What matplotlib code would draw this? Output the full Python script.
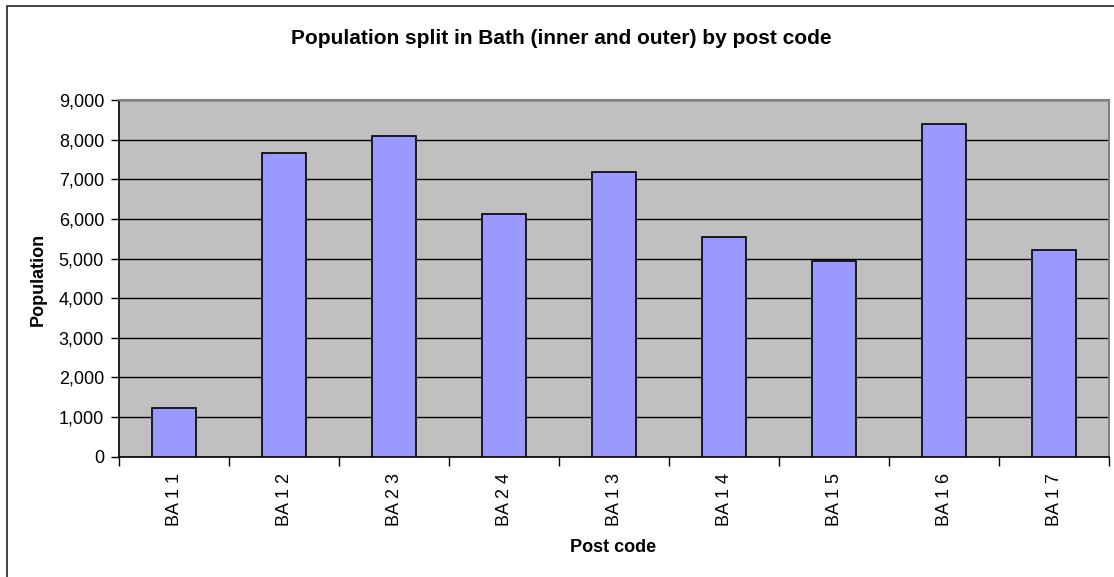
import matplotlib
matplotlib.use("Agg")
import matplotlib.pyplot as plt
from matplotlib.patches import Rectangle
from matplotlib.ticker import FuncFormatter, FixedLocator
import numpy as np

plt.rcParams["font.family"] = ["Liberation Sans", "DejaVu Sans"]

post_codes = ["BA 1 1", "BA 1 2", "BA 2 3", "BA 2 4", "BA 1 3", "BA 1 4", "BA 1 5", "BA 1 6", "BA 1 7"]
population = [1240, 7660, 8100, 6130, 7180, 5550, 4950, 8400, 5210]
y_ticks = [0, 1000, 2000, 3000, 4000, 5000, 6000, 7000, 8000, 9000]

W, H = 1114, 577
fig = plt.figure(figsize=(W / 100, H / 100), dpi=100)
fig.patch.set_facecolor("white")

# outer chart frame (right/bottom run off the image)
fig.patches.append(Rectangle((6.7 / W, -0.1), 1.2, 1 - 6 / H + 0.1, transform=fig.transFigure,
                             fill=False, edgecolor="#222222", linewidth=1.2))

left, right = 119.3 / W, 1109.3 / W
bottom, top = 1 - 456.7 / H, 1 - 100 / H
ax = fig.add_axes([left, bottom, right - left, top - bottom])
ax.set_facecolor("#C0C0C0")

x = np.arange(len(post_codes))
ax.bar(x, population, width=0.4, color="#9999FF", edgecolor="black", linewidth=1.2, zorder=3)

ax.set_xlim(-0.5, len(post_codes) - 0.5)
ax.set_ylim(0, 9000)
ax.set_yticks(y_ticks)
ax.yaxis.set_major_formatter(FuncFormatter(lambda v, p: f"{int(v):,}"))
ax.grid(axis="y", color="black", linewidth=1.0, zorder=1)
ax.set_axisbelow(True)

ax.set_xticks(x)
ax.set_xticklabels(post_codes, rotation=90)
ax.xaxis.set_minor_locator(FixedLocator(np.arange(len(post_codes) + 1) - 0.5))
ax.tick_params(axis="x", which="major", length=0, pad=12, labelsize=13)
ax.tick_params(axis="x", which="minor", length=6.5, width=1, direction="out", color="black")
ax.tick_params(axis="y", length=6, width=1, pad=5, labelsize=13)

for s in ["top", "right"]:
    ax.spines[s].set_color("#808080")
    ax.spines[s].set_linewidth(1.5)
for s in ["left", "bottom"]:
    ax.spines[s].set_color("black")
    ax.spines[s].set_linewidth(1.2)

fig.text(561 / W, 1 - 38 / H, "Population split in Bath (inner and outer) by post code",
         ha="center", va="center", fontsize=15, fontweight="bold")
fig.text(38 / W, 1 - 279 / H, "Population", ha="center", va="center", rotation=90,
         fontsize=13, fontweight="bold")
fig.text(613 / W, 1 - 548 / H, "Post code", ha="center", va="center", fontsize=13, fontweight="bold")

fig.savefig("out.png", dpi=100)
